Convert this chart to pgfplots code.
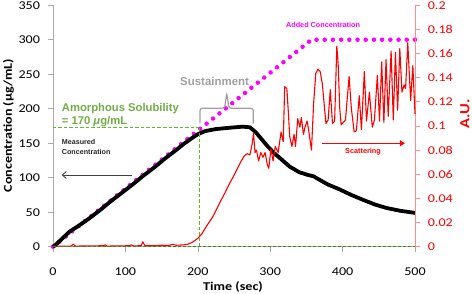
\documentclass[border=0pt]{standalone}
\usepackage{fontspec}
\setmainfont{Carlito}[FakeStretch=1.18]
\newfontfamily\arialf{Liberation Sans}
\usepackage{pgfplots}
\pgfplotsset{compat=1.18}
\usetikzlibrary{arrows.meta}
\definecolor{axgray}{RGB}{170,170,170}
\definecolor{solgreen}{RGB}{112,173,71}
\definecolor{dashgreen}{RGB}{90,190,40}
\definecolor{magen}{RGB}{255,0,255}
\definecolor{sustgray}{RGB}{160,160,160}
\definecolor{redax}{RGB}{255,140,140}

\begin{document}
\begin{tikzpicture}
\begin{axis}[
  at={(0,0)}, anchor=south west,
  scale only axis, width=362bp, height=241.5bp,
  xmin=0, xmax=500, ymin=0, ymax=350,
  axis y line*=left, axis x line*=bottom,
  every outer x axis line/.append style={-},
  every inner x axis line/.append style={-},
  every outer y axis line/.append style={-},
  every inner y axis line/.append style={-},
  x axis line style={-}, y axis line style={-},
  axis line style={axgray, line width=0.6bp},
  xtick={0,100,200,300,400,500},
  ytick={0,50,100,150,200,250,300,350},
  tick align=outside, major tick length=5bp,
  tick style={axgray, line width=0.6bp},
  ticklabel style={font=\fontsize{12}{12}\selectfont, text=black},
  xticklabel style={yshift=-13bp},
  yticklabel style={xshift=-4.5bp},
  /pgf/number format/assume math mode=true,
  clip=false,
]
% added concentration (dotted magenta)
\addplot[magen, line width=4.5bp, line cap=round, dash pattern=on 0bp off 8.2bp]
  coordinates {(0,0) (357,300) (500,300)};
% measured concentration
\addplot[black, line width=3.8bp, line join=round] coordinates {
(0,0) (3,2) (8,7) (15,14) (23,22) (35,30) (50,41) (65,53) (80,66) (95,78)
(111,91) (125,103) (140,115) (155,128) (170,140) (180,148.5) (190,156)
(200,163) (210,167.5) (225,170.5) (245,172.5) (262,174) (272,173) (280,166)
(288,156) (296,146) (305,136) (315,127) (327,116) (340,108) (352,104)
(360,102) (368,97) (380,90) (396,83) (412,75) (428,68) (445,61) (461,56)
(480,52) (500,49)};
% amorphous solubility guides
\addplot[color=dashgreen, solid, line width=1.2bp, dash pattern=on 3.5bp off 2bp]
  coordinates {(0,172.5) (202,172.5)};
\addplot[color=dashgreen, solid, line width=1.2bp, dash pattern=on 3.5bp off 2bp]
  coordinates {(202,172.5) (202,0)};
% brace
\draw[sustgray, line width=1.2bp, rounded corners=2.5bp]
  (axis cs:203,178.8) -- (axis cs:203,200.6) -- (axis cs:237,200.6)
  -- (axis cs:240,223) -- (axis cs:243,200.6) -- (axis cs:276.7,200.6)
  -- (axis cs:276.7,178.8);
% texts
\node[anchor=base west, inner sep=0, text=solgreen, font=\arialf\bfseries\fontsize{11.3}{12}\selectfont]
  at (axis cs:12,195.7) {Amorphous Solubility};
\node[anchor=base west, inner sep=0, text=solgreen, font=\arialf\bfseries\fontsize{11.3}{12}\selectfont]
  at (axis cs:12,176.4) {= 170 {\itshape μ}g/mL};
\node[anchor=base west, inner sep=0, text=sustgray, font=\arialf\bfseries\fontsize{11.5}{12}\selectfont]
  at (axis cs:175.4,232.9) {Sustainment};
\node[anchor=base, inner sep=0, text=magen, font=\arialf\bfseries\fontsize{7.3}{8}\selectfont]
  at (axis cs:373,318) {Added Concentration};
\node[anchor=base west, inner sep=0, text=black!85, font=\arialf\bfseries\fontsize{7.2}{8}\selectfont]
  at (axis cs:12,147.4) {Measured};
\node[anchor=base west, inner sep=0, text=black!85, font=\arialf\bfseries\fontsize{7.2}{8}\selectfont]
  at (axis cs:12,134.3) {Concentration};
\draw[-{Straight Barb[length=4bp,width=7bp]}, black!75, line width=0.9bp]
  (axis cs:108.7,103.9) -- (axis cs:12,103.9);
\node[anchor=base, inner sep=0, text=red, font=\arialf\bfseries\fontsize{7.3}{8}\selectfont]
  at (axis cs:428.2,135.4) {Scattering};
\draw[-{Triangle[length=5bp,width=6bp]}, red, line width=1.5bp]
  (axis cs:371,149.9) -- (axis cs:486,149.9);
% axis labels
\node[rotate=90, inner sep=0, font=\bfseries\fontsize{12}{12}\selectfont]
  at (axis cs:-61.7,175.7) {Concentration (μg/mL)};
\node[anchor=base, inner sep=0, font=\bfseries\fontsize{12}{12}\selectfont]
  at (axis cs:248.6,-62.8) {Time (sec)};
\end{axis}

\begin{axis}[
  at={(0,0)}, anchor=south west,
  scale only axis, width=362bp, height=241.5bp,
  xmin=0, xmax=500, ymin=0, ymax=0.2,
  axis y line*=right, axis x line=none,
  every outer y axis line/.append style={-},
  every inner y axis line/.append style={-},
  y axis line style={-},
  axis line style={redax, line width=0.6bp},
  ytick={0,0.02,0.04,0.06,0.08,0.1,0.12,0.14,0.16,0.18,0.2},
  yticklabels={0,0.02,0.04,0.06,0.08,0.1,0.12,0.14,0.16,0.18,0.2},
  scaled y ticks=false,
  tick align=outside, major tick length=5bp,
  tick style={redax, line width=0.6bp},
  ticklabel style={font=\fontsize{12}{12}\selectfont, text=red},
  yticklabel style={xshift=4.3bp},
  clip=false,
]
\addplot[red, line width=1.1bp, line join=round] coordinates {
(0,0.0005) (25,0.0005) (28,0.002) (31,0.0005) (70,0.0008) (72,0.0015) (75,0.0005)
(105,0.0008) (108,0.0015) (112,0.0005) (122,0.001) (124,0.004) (127,0.0008)
(140,0.0008) (150,0.0012) (160,0.001) (165,0.002) (170,0.0012) (180,0.0015)
(186,0.002) (192,0.0035) (197,0.0055) (201,0.0075) (206,0.011) (212,0.017)
(221,0.025) (230,0.036) (237,0.044) (244,0.0525) (250,0.059) (255,0.065)
(260,0.071) (264,0.075) (268,0.077) (272,0.076) (275,0.085) (277,0.094)
(279,0.078) (281,0.080) (284,0.071) (287,0.078) (290,0.074) (293,0.078)
(296,0.068) (298,0.065) (301,0.081) (304,0.071) (307,0.083) (311,0.078)
(315,0.095) (318,0.087) (320,0.1325) (323,0.131) (325,0.112) (327,0.091)
(330,0.083) (333,0.093) (335,0.083) (338,0.106) (341,0.099) (343,0.107)
(346,0.093) (348,0.099) (351,0.104) (353,0.097) (357,0.080) (360,0.119)
(363,0.1436) (366,0.147) (369,0.145) (372,0.135) (375,0.115) (377,0.102)
(380,0.105) (383,0.13) (386,0.102) (389,0.104) (392,0.166) (394,0.15)
(396,0.115) (398,0.101) (401,0.103) (404,0.105) (406,0.12) (409,0.141)
(412,0.115) (416,0.095) (419,0.096) (423,0.125) (426,0.097) (430,0.145)
(433,0.104) (437,0.128) (441,0.099) (444,0.105) (448,0.142) (451,0.104)
(454,0.153) (457,0.103) (460,0.155) (463,0.108) (467,0.162) (470,0.105)
(473,0.161) (476,0.113) (479,0.164) (482,0.128) (485,0.134) (487,0.131)
(490,0.169) (494,0.121) (497,0.150) (500,0.11)};
\addplot[color=dashgreen!70!black, solid, line width=0.9bp, dash pattern=on 3bp off 2bp]
  coordinates {(0,0) (500,0)};
\node[rotate=90, inner sep=0, text=red, font=\bfseries\fontsize{14}{14}\selectfont]
  at (axis cs:569,0.1099) {A.U.};
\end{axis}
\pgfresetboundingbox
\path[use as bounding box] (-53bp,-47.3bp) rectangle (419bp,246.7bp);
\end{tikzpicture}
\end{document}
